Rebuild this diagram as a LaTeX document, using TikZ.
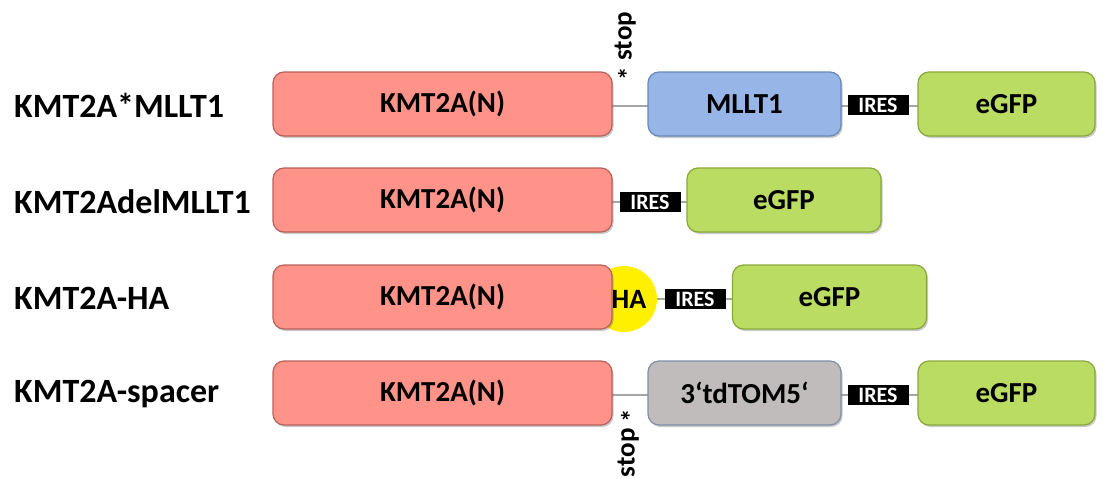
\documentclass[tikz,border=0pt]{standalone}
\usepackage{fontspec}
\setmainfont{Carlito}
\usetikzlibrary{shadows}
\definecolor{kmtfill}{HTML}{FF938A}
\definecolor{kmtedge}{HTML}{B8615B}
\definecolor{mllfill}{HTML}{97B5E6}
\definecolor{mlledge}{HTML}{6787BD}
\definecolor{gfpfill}{HTML}{BBDC63}
\definecolor{gfpedge}{HTML}{88A83A}
\definecolor{tomfill}{HTML}{BFBCBB}
\definecolor{tomedge}{HTML}{7F8FA8}
\definecolor{hafill}{HTML}{FFF000}
\definecolor{linkgray}{HTML}{A6A6A6}
\tikzset{
  gene/.style={rectangle, rounded corners=11pt, line width=1.2pt, minimum height=64pt,
    font=\bfseries\fontsize{29}{29}\selectfont, inner sep=0pt,
    drop shadow={shadow xshift=1.5pt, shadow yshift=-2pt, opacity=0.35, fill=black!60}},
  kmt/.style={gene, fill=kmtfill, draw=kmtedge, minimum width=339pt},
  mll/.style={gene, fill=mllfill, draw=mlledge, minimum width=193pt},
  gfp/.style={gene, fill=gfpfill, draw=gfpedge, minimum width=194pt},
  gfpw/.style={gene, fill=gfpfill, draw=gfpedge, minimum width=177pt},
  tom/.style={gene, fill=tomfill, draw=tomedge, minimum width=193pt},
  ires/.style={rectangle, fill=black, text=white, minimum width=61pt, minimum height=20pt,
    inner sep=0pt, font=\bfseries\fontsize{22}{22}\selectfont},
  rowlabel/.style={anchor=west, inner sep=0pt, font=\bfseries\fontsize{34}{34}\selectfont},
  link/.style={draw=linkgray, line width=2pt},
  stoplabel/.style={rotate=90, inner sep=0pt, font=\bfseries\fontsize{27}{27}\selectfont},
}
\newcommand{\stopmark}{\raisebox{-0.22em}{*}}
\begin{document}
\begin{tikzpicture}[x=1pt, y=-1pt]
\useasboundingbox (0,0) rectangle (1103,479);

% row labels
\node[rowlabel] (l1) at (14,105) {KMT2A*MLLT1};
\node[rowlabel] (l2) at (14,202) {KMT2AdelMLLT1};
\node[rowlabel] (l3) at (14,298) {KMT2A-HA};
\node[rowlabel] (l4) at (14,394) {KMT2A-spacer};

% row 1: KMT2A(N) * MLLT1 - IRES - eGFP
\draw[link] (612,106) -- (1000,106);
\node[kmt] (k1) at (442.5,104) {KMT2A(N)};
\node[mll] (m1) at (744.5,104) {MLLT1};
\node[ires] (i1) at (878,105) {IRES};
\node[gfpw] (g1) at (1006.5,104) {eGFP};
\node[stoplabel] (s1) at (626,46) {\stopmark{} stop};

% row 2: KMT2A(N) - IRES - eGFP
\draw[link] (612,202) -- (700,202);
\node[kmt] (k2) at (442.5,200) {KMT2A(N)};
\node[ires] (i2) at (650,202) {IRES};
\node[gfp] (g2) at (784,200) {eGFP};

% row 3: KMT2A(N) - HA - IRES - eGFP
\draw[link] (640,299) -- (760,299);
\node[circle, fill=hafill, minimum size=66pt, inner sep=0pt] (ha) at (624,299) {};
\node[kmt] (k3) at (442.5,297) {KMT2A(N)};
\node[font=\bfseries\fontsize{28}{28}\selectfont, inner sep=0pt] (hat) at (629,299) {HA};
\node[ires] (i3) at (695,299) {IRES};
\node[gfp] (g3) at (829.5,297) {eGFP};

% row 4: KMT2A(N) * 3'tdTOM5' - IRES - eGFP
\draw[link] (612,395) -- (1000,395);
\node[kmt] (k4) at (442.5,393) {KMT2A(N)};
\node[tom] (t4) at (744.5,393) {3‘tdTOM5‘};
\node[ires] (i4) at (878,395) {IRES};
\node[gfpw] (g4) at (1006.5,393) {eGFP};
\node[stoplabel] (s4) at (629,443) {stop \stopmark};
\end{tikzpicture}
\end{document}
